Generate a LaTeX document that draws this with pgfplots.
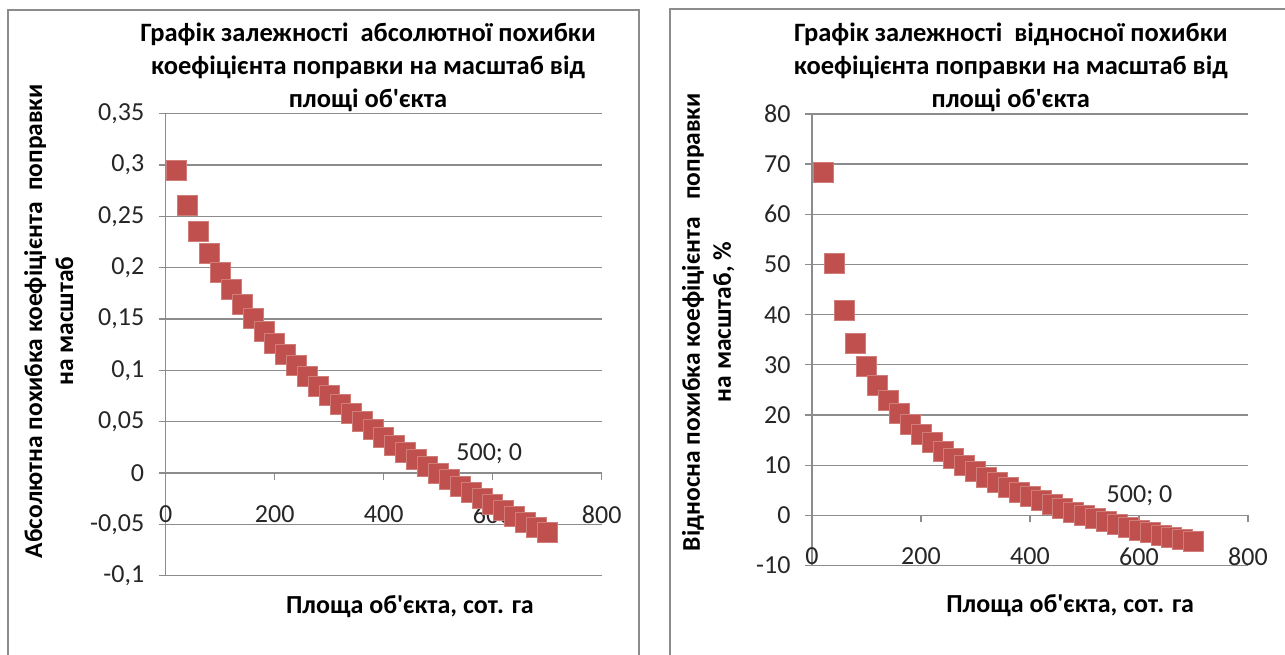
\documentclass[border=0pt]{standalone}
\usepackage{fontspec}
\setmainfont{Carlito}[Ligatures=TeXOff]
\usepackage{pgfplots}
\usepackage{pgfplotstable}
\pgfplotsset{compat=1.18}

\definecolor{serred}{HTML}{C0504D}
\definecolor{gridgray}{HTML}{8C8C8C}

% absolute error of the scale coefficient vs area
\pgfplotstableread{
x y
20 0.2945
40 0.2610
60 0.2350
80 0.2140
100 0.1955
120 0.1790
140 0.1640
160 0.1510
180 0.1380
200 0.1265
220 0.1152
240 0.1045
260 0.0943
280 0.0848
300 0.0756
320 0.0668
340 0.0584
360 0.0503
380 0.0424
400 0.0348
420 0.0274
440 0.0203
460 0.0133
480 0.0066
500 0
520 -0.0064
540 -0.0127
560 -0.0189
580 -0.0249
600 -0.0308
620 -0.0365
640 -0.0422
660 -0.0478
680 -0.0532
700 -0.0580
}\absdata

% relative error, %
\pgfplotstableread{
x y
20 68.4
40 50.3
60 40.8
80 34.3
100 29.8
120 26.0
140 23.0
160 20.3
180 18.1
200 16.2
220 14.5
240 12.8
260 11.3
280 10.0
300 8.8
320 7.6
340 6.6
360 5.6
380 4.7
400 3.8
420 3.0
440 2.2
460 1.4
480 0.7
500 0
520 -0.6
540 -1.2
560 -1.8
580 -2.3
600 -2.9
620 -3.4
640 -3.9
660 -4.4
680 -4.8
700 -5.2
}\reldata

\pgfplotsset{
  excel/.style={
    scale only axis,
    width=436pt,
    xmin=0, xmax=800,
    xtick={0,200,400,600,800},
    hide obscured x ticks=false,
    axis x line=middle,
    axis y line=left,
    axis line style={-, gridgray, line width=1.2pt},
    ymajorgrids,
    grid style={gridgray, line width=1.2pt},
    tick style={gridgray, line width=1.2pt},
    major tick length=7pt,
    tick align=outside,
    ticklabel style={font=\fontsize{26}{31}\selectfont, text=black!85},
    xticklabel={\pgfmathprintnumber[assume math mode=true]{\tick}},
    yticklabel={\pgfmathprintnumber[assume math mode=true,use comma,fixed,precision=2]{\tick}},
    xticklabel style={yshift=-22pt},
    yticklabel style={xshift=-11pt},
    clip=false,
  },
  redsq/.style={
    only marks, mark=square*, mark size=10pt,
    mark options={fill=serred, draw=serred!75!white, line width=0.6pt},
  },
}

\begin{document}
\begin{tikzpicture}
\useasboundingbox (0,0) rectangle (1285pt,654pt);
\fill[white] (0,0) rectangle (1285pt,654pt);

% chart frames
\draw[gridgray, line width=1.6pt] (8pt,-5pt) -- (8pt,644pt) -- (639pt,644pt) -- (639pt,-5pt);
\draw[gridgray, line width=1.6pt] (670pt,-5pt) -- (670pt,645pt) -- (1290pt,645pt);

% left: absolute error
\begin{axis}[excel,
  at={(165.7pt,78.3pt)}, anchor=south west,
  height=462pt,
  ymin=-0.1, ymax=0.35,
  ytick={-0.1,-0.05,0,0.05,0.1,0.15,0.2,0.25,0.3,0.35},
]
\addplot[redsq] table {\absdata};
\node[font=\fontsize{26}{31}\selectfont, text=black!85] at (axis cs:500,0) [xshift=51pt, yshift=19pt] {500; 0};
\node[font=\bfseries\fontsize{26.5}{33}\selectfont, align=center, anchor=south, inner sep=2pt]
  at (rel axis cs:0.464,1) {Графік залежності\ \ абсолютної похибки\\коефіцієнта поправки на масштаб від\\площі об'єкта};
\node[font=\bfseries\fontsize{25.5}{31}\selectfont, align=center, rotate=90]
  at (rel axis cs:-0.268,0.551) {Абсолютна похибка коефіцієнта\ \ поправки\\на масштаб};
\node[font=\bfseries\fontsize{26}{31}\selectfont]
  at (rel axis cs:0.56,-0.068) {Площа об'єкта, сот. га};
\end{axis}

% right: relative error
\begin{axis}[excel,
  at={(812pt,88.4pt)}, anchor=south west,
  height=451.7pt,
  ymin=-10, ymax=80,
  ytick={-10,0,10,20,30,40,50,60,70,80},
]
\addplot[redsq] table {\reldata};
\node[font=\fontsize{26}{31}\selectfont, text=black!85] at (axis cs:500,0) [xshift=55pt, yshift=20pt] {500; 0};
\node[font=\bfseries\fontsize{26.5}{33}\selectfont, align=center, anchor=south, inner sep=2pt]
  at (rel axis cs:0.456,1) {Графік залежності\ \ відносної похибки\\коефіцієнта поправки на масштаб від\\площі об'єкта};
\node[font=\bfseries\fontsize{25.5}{31}\selectfont, align=center, rotate=90]
  at (rel axis cs:-0.238,0.539) {Відносна похибка коефіцієнта\ \ \ поправки\\на масштаб, \%};
\node[font=\bfseries\fontsize{26}{31}\selectfont]
  at (rel axis cs:0.592,-0.089) {Площа об'єкта, сот. га};
\end{axis}
\end{tikzpicture}
\end{document}
